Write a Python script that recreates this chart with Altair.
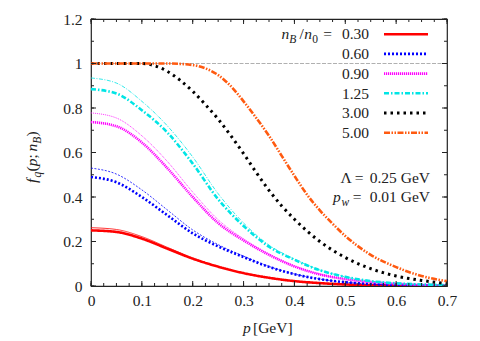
import altair as alt
import pandas as pd

# ---------------- data ----------------
P = [0, 0.05, 0.1, 0.15, 0.2, 0.25, 0.3, 0.35, 0.4, 0.45, 0.5, 0.55, 0.6, 0.65, 0.7]

red_thick = [0.250, 0.243, 0.213, 0.168, 0.123, 0.087, 0.058, 0.037, 0.022, 0.013, 0.007, 0.004, 0.002, 0.001, 0.001]
red_thin = [0.262, 0.254, 0.222, 0.174, 0.126, 0.088, 0.058, 0.037, 0.022, 0.013, 0.007, 0.004, 0.002, 0.001, 0.001]

blue_thick = [0.490, 0.466, 0.400, 0.318, 0.237, 0.178, 0.130, 0.086, 0.053, 0.031, 0.017, 0.009, 0.005, 0.003, 0.002]
blue_thin = [0.530, 0.503, 0.432, 0.342, 0.252, 0.186, 0.134, 0.088, 0.054, 0.031, 0.017, 0.009, 0.005, 0.003, 0.002]

magenta_thick = [0.737, 0.718, 0.645, 0.530, 0.400, 0.283, 0.205, 0.140, 0.088, 0.052, 0.031, 0.018, 0.010, 0.005, 0.003]
magenta_thin = [0.778, 0.755, 0.675, 0.560, 0.422, 0.298, 0.212, 0.144, 0.090, 0.053, 0.031, 0.018, 0.010, 0.005, 0.003]

cyan_thick = [0.885, 0.865, 0.790, 0.690, 0.550, 0.390, 0.270, 0.177, 0.118, 0.071, 0.041, 0.022, 0.012, 0.007, 0.004]
cyan_thin = [0.935, 0.912, 0.830, 0.720, 0.580, 0.415, 0.283, 0.184, 0.121, 0.072, 0.041, 0.022, 0.012, 0.007, 0.004]

P_BLACK = [0, 0.05, 0.1, 0.125, 0.15, 0.175, 0.2, 0.225, 0.25, 0.275, 0.3, 0.325, 0.35,
           0.375, 0.4, 0.45, 0.5, 0.55, 0.6, 0.65, 0.7]
black = [1, 1, 1, 0.99, 0.965, 0.925, 0.875, 0.815, 0.75, 0.675, 0.595, 0.51, 0.43,
         0.36, 0.30, 0.20, 0.128, 0.078, 0.045, 0.025, 0.011]

P_ORANGE = [0, 0.1, 0.15, 0.2, 0.225, 0.25, 0.275, 0.3, 0.325, 0.35, 0.375, 0.4, 0.425,
            0.45, 0.475, 0.5, 0.55, 0.6, 0.65, 0.7]
orange = [1, 1, 1, 0.993, 0.978, 0.948, 0.898, 0.830, 0.755, 0.675, 0.585, 0.495, 0.41,
          0.34, 0.28, 0.225, 0.14, 0.085, 0.045, 0.022]

legend_values = ["0.30", "0.60", "0.90", "1.25", "3.00", "5.00"]

X_LABELS = [0, 0.1, 0.2, 0.3, 0.4, 0.5, 0.6, 0.7]
X_MINOR = [i * 0.025 for i in range(29)]
Y_LABELS = [0, 0.2, 0.4, 0.6, 0.8, 1.0, 1.2]
Y_MINOR = [i * 0.1 for i in range(13)]
REF_LINE = [0, 0.7]

# ---------------- styling ----------------
W, H = 356, 267
FONT = "Liberation Serif"
TXT = "#222222"
FS = 15.5
SUB = 11.5

xs = alt.Scale(domain=[0, 0.7], nice=False, zero=False)
ys = alt.Scale(domain=[0, 1.2], nice=False, zero=False)
xaxis = alt.Axis(values=X_LABELS, format="~g", ticks=False, tickSize=0, domain=False, grid=False,
                 labelFont=FONT, labelFontSize=FS, labelColor=TXT, labelPadding=7,
                 labelFlush=False, title=None)
yaxis = alt.Axis(values=Y_LABELS, format="~g", ticks=False, tickSize=0, domain=False, grid=False,
                 labelFont=FONT, labelFontSize=FS, labelColor=TXT, labelPadding=9,
                 labelFlush=False, title=None)

one = pd.DataFrame({"a": [0]})


def curve(pv, fv, color, width, dash):
    df = pd.DataFrame({"p": pv, "f": fv})
    return alt.Chart(df).mark_line(color=color, strokeWidth=width, strokeDash=dash,
                                   interpolate="monotone", clip=True).encode(
        x=alt.X("p:Q", scale=xs, axis=xaxis),
        y=alt.Y("f:Q", scale=ys, axis=yaxis))


layers = []

# reference line at f = 1
ref_df = pd.DataFrame({"p": REF_LINE, "f": [1, 1]})
layers.append(alt.Chart(ref_df).mark_line(color="#b0b0b0", strokeWidth=1, strokeDash=[4, 1.5]).encode(
    x=alt.X("p:Q", scale=xs, axis=xaxis), y=alt.Y("f:Q", scale=ys, axis=yaxis)))

series = [
    # (thick values, thin values, P, colour, dash thick, dash thin, width)
    (red_thick, red_thin, P, "#ff0000", [1, 0], [1, 0], 2.6),
    (blue_thick, blue_thin, P, "#0000ff", [2, 2], [2, 1.5], 2.6),
    (magenta_thick, magenta_thin, P, "#ff00ff", [1.2, 0.8], [1, 1], 2.6),
    (cyan_thick, cyan_thin, P, "#00e5e5", [5, 2, 1.5, 2], [4, 1.5, 1, 1.5], 2.6),
    (black, None, P_BLACK, "#000000", [2.5, 4], None, 3),
    (orange, None, P_ORANGE, "#ff5a10", [6, 1.5, 1.5, 1.5, 1.5, 1.5], None, 2.6),
]

for thick, thin, pv, col, d1, d2, w in series:
    if thin is not None:
        layers.append(curve(pv, thin, col, 0.8, d2))
    layers.append(curve(pv, thick, col, w, d1))


# ---------------- ticks (inside, on all four sides) ----------------
def xticks(vals, length):
    df = pd.DataFrame({"p": vals})
    out = []
    for y0, y1 in [(H, H - length), (0, length)]:
        out.append(alt.Chart(df).mark_rule(color=TXT, strokeWidth=1).encode(
            x=alt.X("p:Q", scale=xs, axis=xaxis), y=alt.value(y0), y2=alt.value(y1)))
    return out


def yticks(vals, length):
    df = pd.DataFrame({"f": vals})
    out = []
    for x0, x1 in [(0, length), (W, W - length)]:
        out.append(alt.Chart(df).mark_rule(color=TXT, strokeWidth=1).encode(
            y=alt.Y("f:Q", scale=ys, axis=yaxis), x=alt.value(x0), x2=alt.value(x1)))
    return out


layers += xticks(X_MINOR, 3) + xticks(X_LABELS, 5)
layers += yticks(Y_MINOR, 3) + yticks(Y_LABELS, 5)


# ---------------- text helpers ----------------
def txt(text, x, y, size=FS, italic=False, align="left", angle=0):
    kw = dict(text=text, font=FONT, fontSize=size, color=TXT, align=align, baseline="alphabetic")
    if italic:
        kw["fontStyle"] = "italic"
    if angle:
        kw["angle"] = angle
    return alt.Chart(one).mark_text(**kw).encode(x=alt.value(x), y=alt.value(y))


# legend
ROW0_LINE = 15.2
ROW0_BASE = 20.4
STEP = 19.7
for i, (lab, s) in enumerate(zip(legend_values, series)):
    col, d1, w = s[3], s[4], s[6]
    layers.append(txt(lab, 278, ROW0_BASE + STEP * i, align="right"))
    layers.append(alt.Chart(one).mark_rule(color=col, strokeWidth=w, strokeDash=d1).encode(
        x=alt.value(293), x2=alt.value(337), y=alt.value(ROW0_LINE + STEP * i)))

layers += [
    txt("n", 190.5, ROW0_BASE, italic=True),
    txt("B", 198.3, ROW0_BASE + 4, size=SUB, italic=True),
    txt("/", 208.5, ROW0_BASE),
    txt("n", 213.3, ROW0_BASE, italic=True),
    txt("0", 221.3, ROW0_BASE + 4, size=SUB),
    txt("=", 236.5, ROW0_BASE, align="center"),
]

# annotations
layers += [
    txt("\u039b", 249.5, 164.2),
    txt("=", 268, 164.2, align="center"),
    txt("0.25 GeV", 339, 164.2, align="right"),
    txt("p", 242, 182.9, italic=True),
    txt("w", 250.5, 186.5, size=SUB, italic=True),
    txt("=", 266, 182.9, align="center"),
    txt("0.01 GeV", 339, 182.9, align="right"),
]

# axis titles
layers += [
    txt("p", 152, 313.5, italic=True),
    txt("[GeV]", 162, 313.5),
    txt("f", -54, 164, italic=True, angle=270),
    txt("q", -50, 158.5, size=SUB, italic=True, angle=270),
    txt("(", -54, 152.5, angle=270),
    txt("p", -54, 147.3, italic=True, angle=270),
    txt(";", -54, 139.5, angle=270),
    txt("n", -54, 132.5, italic=True, angle=270),
    txt("B", -50, 124.7, size=SUB, italic=True, angle=270),
    txt(")", -54, 117.5, angle=270),
]

chart = alt.layer(*layers).properties(
    width=W, height=H,
    autosize=alt.AutoSizeParams(type="none"),
    padding={"left": 83, "top": 11, "right": 25, "bottom": 52},
    background="white",
).configure_view(stroke=TXT, strokeWidth=1.2)

chart.save("out.html", embed_options={"renderer": "svg", "actions": False})
